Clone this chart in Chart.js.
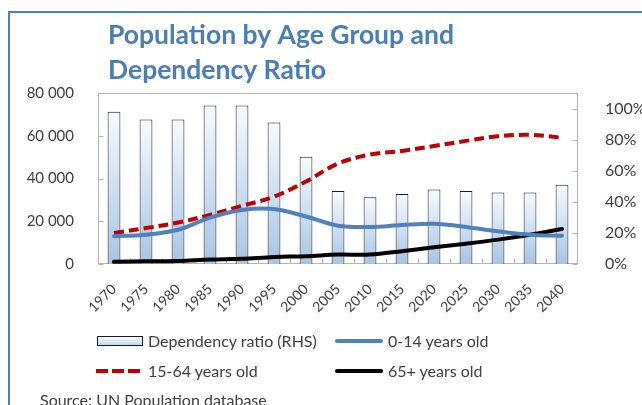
<!DOCTYPE html>
<html>
<head>
<meta charset="utf-8">
<script src="https://cdn.jsdelivr.net/npm/chart.js@4.4.1/dist/chart.umd.min.js"></script>
<style>
html,body{margin:0;padding:0;background:#fff;}
#wrap{position:relative;width:642px;height:405px;overflow:hidden;font-family:Lato,"Open Sans",sans-serif;}
#frame{position:absolute;left:8px;top:11px;width:700px;height:500px;border-left:2px solid #4f81bd;border-top:2px solid #4f81bd;}
#c{position:absolute;left:0;top:0;}
.lt{position:absolute;font-size:16px;color:#404040;line-height:20px;white-space:nowrap;}
.sw{position:absolute;}
#src{position:absolute;left:40px;top:390px;font-size:16px;color:#404040;white-space:nowrap;}
</style>
</head>
<body>
<div id="wrap">
  <div id="frame"></div>
  <canvas id="c" width="642" height="405"></canvas>
  <div id="legend"></div>
  <div id="src">Source: UN Population database</div>
</div>
<script>
const categories = ['1970','1975','1980','1985','1990','1995','2000','2005','2010','2015','2020','2025','2030','2035','2040'];
const dependencyRatio = [98, 93, 93, 102, 102, 91, 69, 47, 43, 45, 48, 47, 46, 46, 51];
const age0to14 = [13000, 13700, 16000, 21700, 25300, 25700, 22200, 17900, 17300, 18200, 18800, 17300, 15300, 13700, 13200];
const age15to64 = [14500, 16800, 19400, 23000, 27200, 31500, 38600, 47000, 51200, 52900, 55200, 57600, 59800, 60400, 59100];
const age65plus = [1000, 1300, 1400, 2100, 2400, 3300, 3600, 4400, 4400, 6000, 7800, 9500, 11400, 13700, 16400];
const leftTickLabels = ['0','20 000','40 000','60 000','80 000'];
const rightTickLabels = ['0%','20%','40%','60%','80%','100%'];
const titleLines = ['Population by Age Group and','Dependency Ratio'];
const seriesNames = ['Dependency ratio (RHS)','0-14 years old','15-64 years old','65+ years old'];

const FONT = 'Lato';

function barGradient(c) {
  const chart = c.chart;
  if (!chart.chartArea || c.raw === undefined) return '#d6e4f3';
  const s = chart.scales.y2;
  const top = s.getPixelForValue(c.raw);
  const base = s.getPixelForValue(0);
  const g = chart.ctx.createLinearGradient(0, top, 0, base);
  g.addColorStop(0, '#f7fafd');
  g.addColorStop(1, '#a5c5e6');
  return g;
}

const plotFrame = {
  id: 'plotFrame',
  afterLayout(chart) {
    if (chart.titleBlock) { chart.titleBlock.left += 10; chart.titleBlock.right += 10; }
  },
  beforeDatasetsDraw(chart) {
    const {ctx, chartArea: a, scales} = chart;
    ctx.save();
    ctx.strokeStyle = '#b4b4b4';
    ctx.lineWidth = 1;
    const L = Math.round(a.left) + 0.5, R = Math.round(a.right) - 0.5;
    const T = Math.round(a.top) + 0.5, B = Math.round(a.bottom) - 0.5;
    ctx.strokeRect(L, T, R - L, B - T);
    ctx.beginPath();
    scales.y.ticks.forEach(t => {
      const p = Math.round(scales.y.getPixelForValue(t.value)) + 0.5;
      ctx.moveTo(L, p); ctx.lineTo(L + 5, p);
    });
    scales.y2.ticks.forEach(t => {
      const p = Math.round(scales.y2.getPixelForValue(t.value)) + 0.5;
      ctx.moveTo(R, p); ctx.lineTo(R - 5, p);
    });
    const n = categories.length;
    for (let i = 0; i < n - 1; i++) {
      const p = Math.round((scales.x.getPixelForValue(i) + scales.x.getPixelForValue(i + 1)) / 2) + 0.5;
      ctx.moveTo(p, B); ctx.lineTo(p, B - 5);
    }
    ctx.stroke();
    ctx.restore();
  }
};

const chart = new Chart(document.getElementById('c'), {
  type: 'bar',
  data: {
    labels: categories,
    datasets: [
      {type: 'line', label: seriesNames[1], data: age0to14, yAxisID: 'y', borderColor: '#4f81bd', borderWidth: 4, pointRadius: 0, tension: 0.35, order: 1, borderCapStyle: 'round'},
      {type: 'line', label: seriesNames[2], data: age15to64, yAxisID: 'y', borderColor: '#c00000', borderWidth: 4, borderDash: [10, 5], pointRadius: 0, tension: 0.35, order: 1},
      {type: 'line', label: seriesNames[3], data: age65plus, yAxisID: 'y', borderColor: '#000000', borderWidth: 4, pointRadius: 0, tension: 0.35, order: 1, borderCapStyle: 'round'},
      {type: 'bar', label: seriesNames[0], data: dependencyRatio, yAxisID: 'y2', backgroundColor: barGradient, borderColor: '#1a1a1a', borderWidth: 1, barPercentage: 0.4, categoryPercentage: 1, order: 2}
    ]
  },
  options: {
    responsive: false,
    animation: false,
    layout: {padding: {left: 0, right: 0, top: 0, bottom: 91}},
    plugins: {
      legend: {display: false},
      tooltip: {enabled: false},
      title: {
        display: true,
        text: titleLines,
        align: 'start',
        fullSize: false,
        color: '#4a7db6',
        font: {family: FONT, size: 26.5, weight: 'bold', lineHeight: '35px'},
        padding: {top: 18, bottom: 5}
      }
    },
    scales: {
      x: {
        grid: {display: false},
        border: {display: false},
        ticks: {autoSkip: false, minRotation: 45, maxRotation: 45, color: '#404040', font: {family: FONT, size: 14}, padding: 9},
        afterFit(s) { s.height = 50; }
      },
      y: {
        position: 'left',
        min: 0, max: 80000,
        grid: {display: false},
        border: {display: false},
        ticks: {stepSize: 20000, color: '#404040', font: {family: FONT, size: 15}, padding: 16,
          callback: (v, i) => leftTickLabels[i]},
        afterFit(s) { s.width = 98; }
      },
      y2: {
        position: 'right',
        min: 0, max: 110,
        grid: {display: false},
        border: {display: false},
        ticks: {stepSize: 20, includeBounds: false, color: '#404040', font: {family: FONT, size: 16}, padding: 19,
          callback: (v, i) => rightTickLabels[i]},
        afterFit(s) { s.width = 64; }
      }
    }
  },
  plugins: [plotFrame]
});

// HTML legend built from the chart's datasets
(function buildLegend() {
  const leg = document.getElementById('legend');
  const items = [
    {name: seriesNames[0], sx: 97, tx: 148, cy: 341, kind: 'bar'},
    {name: seriesNames[1], sx: 335, tx: 388, cy: 341, kind: 'line', color: chart.data.datasets[0].borderColor},
    {name: seriesNames[2], sx: 96, tx: 148, cy: 371, kind: 'dash', color: chart.data.datasets[1].borderColor},
    {name: seriesNames[3], sx: 335, tx: 388, cy: 371, kind: 'line', color: chart.data.datasets[2].borderColor}
  ];
  items.forEach(it => {
    const sw = document.createElement('div');
    sw.className = 'sw';
    if (it.kind === 'bar') {
      Object.assign(sw.style, {left: it.sx + 'px', top: (it.cy - 5) + 'px', width: '44px', height: '8px',
        border: '1px solid #1a1a1a', background: 'linear-gradient(#f7fafd,#c3d8ee)'});
    } else if (it.kind === 'line') {
      Object.assign(sw.style, {left: it.sx + 'px', top: (it.cy - 2) + 'px', width: '48px', height: '4px',
        background: it.color, borderRadius: '2px'});
    } else {
      Object.assign(sw.style, {left: it.sx + 'px', top: (it.cy - 2) + 'px', width: '44px', height: '4px',
        background: 'repeating-linear-gradient(to right,' + it.color + ' 0 12px, transparent 12px 16px)'});
    }
    leg.appendChild(sw);
    const t = document.createElement('div');
    t.className = 'lt';
    t.textContent = it.name;
    Object.assign(t.style, {left: it.tx + 'px', top: (it.cy - 10) + 'px'});
    leg.appendChild(t);
  });
})();
</script>
</body>
</html>
